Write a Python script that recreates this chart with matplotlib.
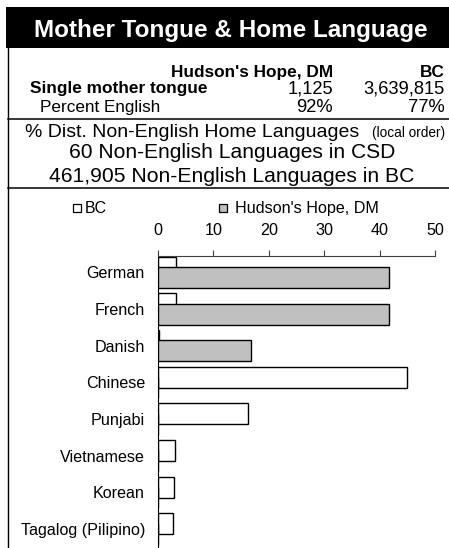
import matplotlib
matplotlib.use('Agg')
import matplotlib.pyplot as plt
from matplotlib.patches import Rectangle
import numpy as np

plt.rcParams['font.family'] = ['Liberation Sans', 'DejaVu Sans']

# data
languages = ['German', 'French', 'Danish', 'Chinese', 'Punjabi',
             'Vietnamese', 'Korean', 'Tagalog (Pilipino)']
bc_pct = [3.3, 3.2, 0.25, 45.0, 16.2, 3.1, 2.9, 2.7]
local_pct = [41.7, 41.7, 16.7, 0, 0, 0, 0, 0]
local_name = "Hudson's Hope, DM"
mother_tongue = ['1,125', '3,639,815']
pct_english = ['92%', '77%']
n_lang_csd = 60
n_lang_bc = '461,905'

W, H = 449, 548
fig = plt.figure(figsize=(W / 100, H / 100), dpi=100)

# background axes in pixel coords for the header table
bg = fig.add_axes([0, 0, 1, 1])
bg.set_xlim(0, W)
bg.set_ylim(H, 0)
bg.axis('off')

bg.add_patch(Rectangle((6, 7), W - 6, 41, facecolor='black', edgecolor='none'))
bg.text(231, 37.5, 'Mother Tongue & Home Language', color='white',
        fontsize=17.5, fontweight='bold', ha='center', va='baseline')

bg.plot([8.3, 8.3], [48, H], color='black', lw=1)
bg.plot([8.3, W], [119, 119], color='black', lw=1.1)
bg.plot([8.3, W], [188, 188], color='black', lw=1.1)

bg.text(333, 76.7, local_name, fontsize=12.4, fontweight='bold', ha='right', va='baseline')
bg.text(445, 76.7, 'BC', fontsize=12.4, fontweight='bold', ha='right', va='baseline')
bg.text(30, 93.3, 'Single mother tongue', fontsize=12.4, fontweight='bold', va='baseline')
bg.text(333, 93.3, mother_tongue[0], fontsize=13.2, ha='right', va='baseline')
bg.text(445, 93.3, mother_tongue[1], fontsize=13.2, ha='right', va='baseline')
bg.text(40, 111.7, 'Percent English', fontsize=12.3, va='baseline')
bg.text(333, 111.7, pct_english[0], fontsize=13.2, ha='right', va='baseline')
bg.text(445, 111.7, pct_english[1], fontsize=13.2, ha='right', va='baseline')

bg.text(25, 136.7, '% Dist. Non-English Home Languages', fontsize=14, va='baseline')
bg.text(445, 136.7, '(local order)', fontsize=9.8, ha='right', va='baseline')
bg.text(232, 158.3, f'{n_lang_csd} Non-English Languages in CSD', fontsize=15.1,
        ha='center', va='baseline')
bg.text(232, 181.7, f'{n_lang_bc} Non-English Languages in BC', fontsize=15.2,
        ha='center', va='baseline')

# legend
bg.add_patch(Rectangle((73, 204), 8, 8, facecolor='white', edgecolor='black', lw=0.9))
bg.text(85, 213.3, 'BC', fontsize=11.5, va='baseline')
bg.add_patch(Rectangle((218.5, 204), 8, 8, facecolor='#C0C0C0', edgecolor='black', lw=0.9))
bg.text(235, 213.3, local_name, fontsize=11.6, va='baseline')

# bar chart
ax = fig.add_axes([158 / W, 0, (435 - 158) / W, (H - 256) / H])
ax.set_facecolor('none')
y = np.arange(len(languages))
bh = 0.573
off = 0.142
ax.barh(y - off, bc_pct, height=bh, color='white', edgecolor='black', lw=1.0, zorder=2)
ax.barh(y + off, local_pct, height=bh, color='#C0C0C0', edgecolor='black', lw=1.0, zorder=3)

ax.set_xlim(0, 50)
ax.set_ylim(7.52, -0.45)
ax.set_xticks([0, 10, 20, 30, 40, 50])
ax.xaxis.tick_top()
ax.tick_params(axis='x', direction='out', length=4.3, width=0.8, color='#404040',
               labelsize=11.6, pad=9)
ax.set_yticks(y)
ax.set_yticklabels(languages)
ax.tick_params(axis='y', length=0, labelsize=11.6, pad=9.4)
ax.spines['right'].set_visible(False)
ax.spines['bottom'].set_visible(False)
ax.spines['top'].set_color('#404040')
ax.spines['top'].set_linewidth(0.8)
ax.spines['left'].set_linewidth(0.8)

fig.savefig('out.png', dpi=100)
